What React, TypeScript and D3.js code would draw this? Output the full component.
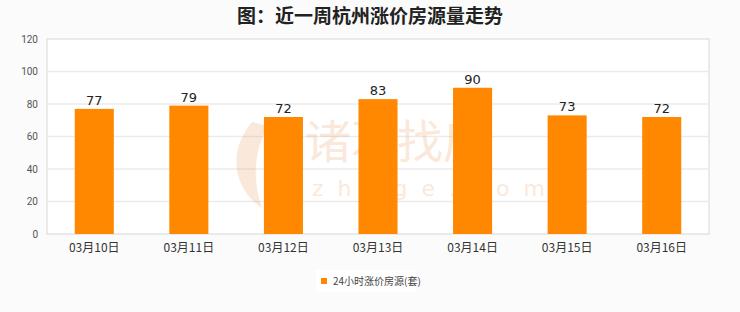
import React from "react";
import * as d3 from "d3";

const categories = ["03月10日", "03月11日", "03月12日", "03月13日", "03月14日", "03月15日", "03月16日"];
const values = [77, 79, 72, 83, 90, 73, 72];
const yTicks = [0, 20, 40, 60, 80, 100, 120];
const title = "图：近一周杭州涨价房源量走势";
const seriesName = "24小时涨价房源(套)";

export default function App() {
  const W = 740, H = 312;
  const left = 47, right = 709, top = 39, bottom = 234;
  const x = d3.scaleBand<string>().domain(categories).range([left, right]).paddingInner(0.587).paddingOuter(0.2935);
  const y = d3.scaleLinear().domain([0, 120]).range([bottom, top]);
  const orange = "#ff8800";
  return (
    <svg width={W} height={H} style={{ position: "absolute", left: 0, top: 0, display: "block" }}>
      <rect x={0} y={0} width={W} height={H} fill="#fbfbfb" />
      <text x={370} y={23} textAnchor="middle" fontFamily="'Noto Sans CJK SC'" fontWeight="bold" fontSize={19} fill="#222">{title}</text>
      <rect x={left} y={top} width={right - left} height={bottom - top} fill="#ffffff" stroke="#e4e4e4" strokeWidth={1.5} />
      {yTicks.map((t) => (
        <g key={t}>
          {t > 0 && t < 120 && <line x1={left} x2={right} y1={y(t)} y2={y(t)} stroke="#ebebeb" strokeWidth={1.5} />}
          <text x={38} y={y(t) + 3.5} textAnchor="end" fontFamily="Roboto, 'DejaVu Sans'" fontSize={10} fill="#555">{t}</text>
        </g>
      ))}
      <g opacity={0.2}>
        <text x={305} y={158} fontFamily="'Noto Sans CJK SC'" fontSize={46} fill="#e8904a">诸葛找房</text>
        <text x={312} y={196} fontFamily="'DejaVu Sans'" fontSize={22} letterSpacing={14} fill="#e8904a">zhuge.com</text>
        <path d="M252,122 C228,150 232,188 262,208 C252,180 254,150 268,126 Z" fill="#e8904a" />
      </g>
      {categories.map((c, i) => (
        <g key={c}>
          <rect x={x(c)!} y={y(values[i])} width={x.bandwidth()} height={bottom - y(values[i])} fill={orange} />
          <text x={x(c)! + x.bandwidth() / 2} y={y(values[i]) - 4} textAnchor="middle" fontFamily="'DejaVu Sans'" fontSize={13} fill="#222">{values[i]}</text>
          <text x={x(c)! + x.bandwidth() / 2} y={252} textAnchor="middle" fontFamily="'Noto Sans CJK SC'" fontSize={12} fill="#333">{c}</text>
        </g>
      ))}
      <rect x={316} y={270} width={100} height={22} fill="#ffffff" />
      <rect x={321} y={278} width={6} height={6} fill={orange} />
      <text x={333} y={284.5} fontFamily="'Noto Sans CJK SC'" fontSize={10} fill="#444">{seriesName}</text>
    </svg>
  );
}
